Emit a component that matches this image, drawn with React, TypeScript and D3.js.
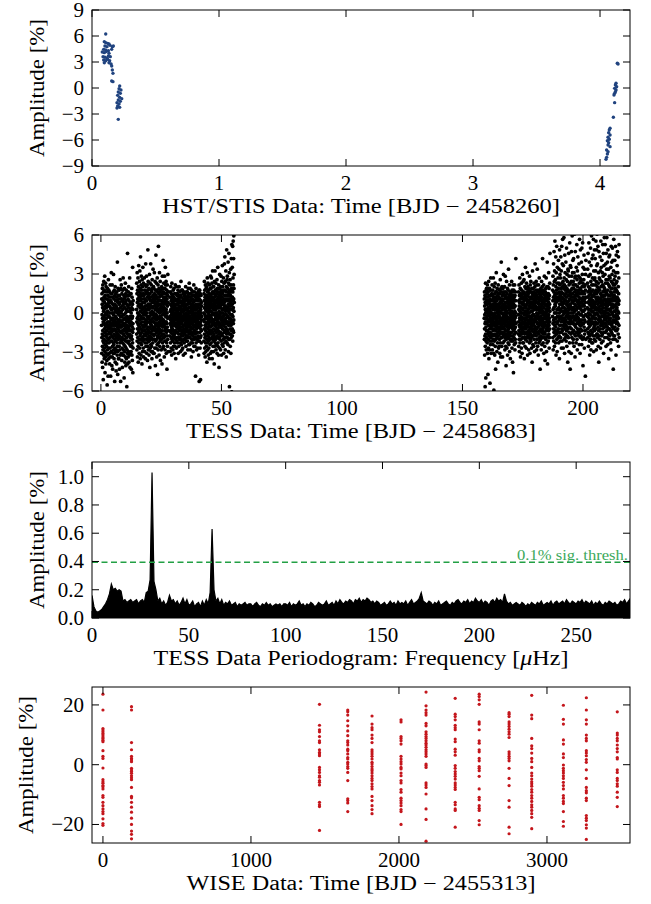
import React from "react"
import * as d3 from "d3"

const W = 651
const H = 904
const LEFT = 92
const RIGHT = 630
const PANEL_H = 156
const FONT = "'Liberation Serif', 'DejaVu Serif', serif"

// ---- HST/STIS light curve (days, %)
const hstTime = [
  0.108, 0.097, 0.108, 0.123, 0.134, 0.102, 0.118, 0.142, 0.160, 0.168, 0.092, 0.108, 0.129, 0.155,
  0.081, 0.097, 0.113, 0.134, 0.087, 0.102, 0.118, 0.129, 0.144, 0.092, 0.108, 0.123, 0.139, 0.097,
  0.134, 0.150, 0.155, 0.160, 0.165, 0.155, 0.165,
  0.218, 0.213, 0.228, 0.207, 0.223, 0.202, 0.218, 0.234, 0.207, 0.223, 0.197, 0.213, 0.202, 0.218,
  0.197, 0.207,
  4.136, 4.142, 4.126, 4.121, 4.131, 4.115, 4.126, 4.121, 4.115, 4.110, 4.115, 4.105, 4.079, 4.073,
  4.068, 4.079, 4.063, 4.073, 4.058, 4.068, 4.063, 4.079, 4.052, 4.063, 4.058, 4.052, 4.047,
]
const hstAmp = [
  6.23, 5.35, 5.23, 5.15, 5.08, 4.85, 4.77, 4.92, 4.77, 4.85, 4.46, 4.38, 4.31, 4.46,
  4.15, 4.08, 4.2, 4.0, 3.62, 3.54, 3.46, 3.69, 3.62, 3.23, 3.15, 3.31, 3.15, 2.92,
  2.92, 2.77, 2.54, 2.08, 1.69, 0.81, 0.73,
  0.23, -0.08, -0.23, -0.46, -0.62, -0.85, -1.08, -1.23, -1.38, -1.54, -1.69, -1.85, -2.08, -2.23,
  -2.31, -3.62,
  2.85, 2.77, 0.54, 0.35, 0.15, -0.04, -0.23, -0.42, -0.62, -0.81, -1.69, -3.38, -4.65, -4.85,
  -5.15, -5.42, -5.69, -5.92, -6.08, -6.31, -6.58, -6.77, -7.15, -7.35, -7.62, -8.0, -8.23,
]

// ---- TESS light curve, one orbit per entry, cadences in time order.
// each two-digit code c stands for an amplitude of (c - 50) * 0.135 %
const tessStart = [0.3, 14.8, 28.6, 42.7, 159.0, 173.2, 187.4, 201.8]
const tessEnd = [13.4, 27.9, 41.8, 55.3, 172.2, 186.3, 201.2, 215.0]
const tessCodes = [
  `43 27 58 36 61 49 22 55 38 64 31 47 19 53 40 66 34 29 57 45 12 62 37 51 26 44 68 33 48 59
   35 52 24 63 41 30 56 46 71 28 39 54 16 43 60 32 49 25 67 37 42 58 21 50 34 65 44 27 53 38
   47 31 62 40 23 55 36 49 9 58 42 29 64 33 51 45 26 60 38 14 54 43 35 69 30 48 57 24 41 63
   41 56 33 48 62 27 45 39 54 21 50 36 59 44 30 66 42 25 53 38 47 14 57 34 61 43 28 52 40 73
   39 56 28 46 61 34 20 52 44 37 66 25 50 41 31 59 18 47 55 36 43 27 62 33 49 40 72 29 53 45
   32 58 45 24 50 38 63 41 27 55 35 11 60 46 30 52 43 65 22 48 37 57 34 44 28 61 40 51 17 54
   44 29 59 36 47 21 62 39 53 33 45 26 57 42 79 31 50 38 15 56 41 28 64 35 46 52 24 43 60 37
   36 49 58 24 44 63 31 55 40 18 51 37 46 60 29 42 56 33 69 45 26 53 39 48 11 58 35 64 43 50
   51 34 42 66 27 48 39 58 23 45 61 36 30 54 43 19 57 40 33 63 46 26 52 38 44 70 29 49 35 56
   38 55 26 43 60 32 49 13 58 41 35 64 28 47 53 37 22 59 44 31 56 40 67 25 50 42 34 61 20 46
   57 30 46 39 63 24 52 41 36 55 8 48 43 29 60 34 51 45 27 84 38 21 54 42 33 58 47 25 62 40
   53 28 42 65 37 46 22 57 41 34 60 47 26 51 38 70 44 32 55 19 48 61 36 43 27 56 40 52 45 31
   45 36 61 28 50 43 18 56 37 53 31 64 40 26 47 59 35 42 23 55 48 33 76 39 16 52 44 30 57 41`,
  `52 38 67 45 29 61 34 73 47 56 41 25 63 50 36 58 44 70 31 54 48 22 65 39 57 43 77 33 60 46
   40 62 27 55 49 35 68 42 59 30 74 46 53 37 64 24 51 44 82 38 57 33 61 48 26 66 41 55 35 71
   58 32 47 63 39 54 21 60 45 69 36 52 43 28 65 50 40 76 34 56 47 61 30 53 42 67 25 49 58 37
   47 60 35 53 42 70 38 56 45 28 63 51 40 58 33 66 44 54 24 61 49 37 78 43 57 31 52 46 65 39
   44 71 35 57 50 27 62 41 54 33 66 48 38 59 23 52 45 63 31 86 42 55 36 68 47 29 60 40 53 34
   61 39 52 26 64 45 34 58 48 72 37 55 42 19 61 50 35 67 44 30 57 39 53 46 78 32 59 41 63 28
   36 54 66 43 31 57 49 38 62 24 51 45 69 35 56 40 28 64 47 53 33 60 42 75 38 50 27 58 45 65
   56 41 64 37 50 45 27 59 48 73 35 54 42 61 30 57 47 38 68 44 52 20 63 40 55 34 60 49 83 43
   49 30 58 41 67 35 53 46 25 63 39 56 44 32 70 48 37 59 51 15 62 43 36 54 66 29 52 40 57 88
   55 42 33 61 47 38 64 26 52 45 59 36 73 41 50 31 57 44 62 34 48 68 39 55 23 60 46 35 53 43
   63 37 46 54 29 60 43 51 35 65 47 40 57 21 53 44 61 38 71 49 33 56 42 64 30 52 45 80 36 59
   38 62 46 55 31 67 43 50 58 36 53 25 61 45 71 40 56 34 49 64 42 29 57 51 76 37 59 44 66 48
   41 57 34 68 45 52 27 61 39 55 48 33 63 44 18 58 50 37 66 42 54 31 60 47 35 72 40 56 28 62`,
  `48 37 59 44 28 62 51 40 55 33 46 65 39 52 43 30 57 47 36 61 49 42 26 54 45 67 35 50 41 58
   53 41 34 60 46 38 56 29 51 44 63 36 48 55 40 31 59 45 52 37 64 43 27 57 49 39 54 33 61 47
   38 55 46 31 58 43 50 66 35 47 53 40 24 61 44 49 36 57 42 52 30 65 46 39 55 48 34 60 43 51
   44 55 39 61 47 33 52 58 41 36 63 49 45 27 56 42 53 38 60 46 31 57 50 43 65 35 48 54 40 59
   57 44 36 52 62 41 49 33 56 45 28 60 38 53 47 42 68 35 50 44 59 32 54 40 46 63 37 51 29 56
   45 52 39 63 34 48 57 42 30 55 47 37 61 51 43 26 58 40 54 46 35 62 49 41 56 33 47 60 38 53
   40 58 47 35 54 44 61 27 52 43 57 39 48 65 36 50 45 31 59 42 53 37 46 62 34 55 41 49 58 44
   52 37 58 45 42 62 34 49 55 40 29 60 47 51 36 64 43 57 39 46 53 32 61 44 48 56 38 67 42 50
   56 43 32 59 48 40 53 36 64 45 51 29 57 42 38 55 47 61 33 50 44 39 58 25 54 46 41 63 35 52
   47 60 38 51 44 55 33 49 58 41 37 62 46 53 28 56 43 48 35 60 52 39 45 66 31 57 42 50 36 54
   35 53 46 62 40 49 57 31 45 54 38 60 43 47 14 59 50 36 55 42 64 33 48 52 39 58 44 29 61 46
   41 59 48 35 54 46 61 39 50 43 57 30 53 47 37 62 45 55 34 58 42 49 26 60 51 44 36 63 47 11
   51 42 58 34 47 63 39 55 44 30 53 48 61 36 49 12 57 41 52 45 37 60 43 50 33 56 46 40 54 48`,
  `46 34 61 50 27 57 41 68 38 53 45 30 63 49 36 59 43 25 55 47 66 33 52 40 60 28 48 56 37 64
   42 58 31 54 47 65 35 51 44 22 60 39 56 48 70 33 53 42 62 29 57 45 37 67 50 41 26 59 46 34
   55 38 63 44 30 52 49 36 61 43 57 24 54 40 66 47 35 58 51 32 64 45 39 53 27 60 48 71 42 56
   51 38 64 45 33 58 47 70 40 55 28 61 49 36 67 43 53 24 59 46 62 39 74 50 35 57 44 65 31 54
   37 61 45 28 58 52 41 65 34 49 56 38 62 21 53 46 68 31 55 43 59 36 50 74 40 57 33 63 47 44
   60 43 52 35 67 48 29 56 42 63 39 54 46 32 61 50 44 37 69 27 57 41 53 64 36 49 58 45 76 31
   48 56 33 62 45 40 59 26 53 47 66 38 55 43 19 60 51 36 64 42 57 30 49 72 44 35 61 54 39 58
   39 62 48 56 29 65 42 53 37 60 46 71 34 57 50 43 63 26 55 47 68 38 59 45 32 61 52 77 41 56
   41 65 50 37 57 44 31 62 48 55 35 70 43 52 27 63 46 58 39 53 67 33 56 45 78 40 60 49 36 82
   57 39 63 46 29 54 68 42 51 36 60 47 74 34 58 44 53 25 65 49 41 62 38 86 52 45 57 33 69 40
   44 71 36 60 53 40 64 48 32 58 45 79 39 55 62 28 51 67 43 57 35 84 47 61 50 38 73 54 8 66
   58 45 35 63 52 41 69 47 31 56 44 60 38 75 49 54 27 62 43 66 36 58 81 46 52 40 64 5 57 89
   63 49 55 41 76 37 59 52 45 88 34 62 48 70 57 40 91 53 44 66 39 81 58 46 94 51 64 3 72 56`,
  `4 47 58 35 62 41 26 54 49 37 60 44 8 56 31 52 45 67 38 50 13 59 42 34 63 47 29 55 40 64
   51 36 57 44 0 61 48 33 55 40 66 27 52 45 59 38 15 53 46 62 35 49 57 30 43 68 50 39 24 56
   43 60 37 52 46 29 64 41 55 48 34 10 58 45 51 39 63 32 54 47 70 36 57 42 27 60 49 44 53 38
   50 38 61 45 34 57 49 66 41 53 29 60 46 37 55 43 63 32 52 47 58 40 70 35 54 44 27 59 48 6
   57 41 49 65 34 53 45 38 61 26 50 43 56 37 67 47 31 59 52 44 18 55 40 62 48 35 58 42 73 46
   38 54 62 43 50 28 57 46 36 64 41 53 47 33 60 45 55 22 51 39 58 44 66 37 49 61 30 54 42 48
   52 45 31 59 40 55 48 63 35 51 44 27 61 47 38 56 42 69 33 53 46 58 25 50 41 64 36 57 45 79
   43 56 39 62 47 31 54 50 65 36 58 44 41 60 52 25 57 45 38 64 49 33 55 42 61 46 72 37 53 48
   46 62 39 53 44 34 58 50 41 65 37 55 48 29 60 43 52 36 71 45 56 40 62 31 49 54 38 59 20 47
   59 35 51 43 68 46 38 56 42 30 61 48 53 37 64 45 26 58 40 50 44 57 33 63 47 39 55 42 75 36
   41 57 47 32 54 60 45 38 52 66 43 28 59 50 35 56 46 62 39 53 24 58 44 49 37 61 42 55 34 48
   55 44 60 35 51 46 68 39 57 42 30 63 48 53 37 59 45 22 56 41 62 50 34 66 43 54 47 58 16 60
   55 40 63 46 36 53 49 59 32 44 57 41 66 38 51 47 29 60 45 54 35 62 42 48 57 33 50 81 39 44`,
  `49 38 62 45 31 57 52 40 66 35 54 43 28 60 47 56 37 70 42 51 33 58 46 64 39 53 25 61 44 50
   56 43 35 60 48 41 67 30 53 46 58 38 63 50 44 27 59 42 55 36 72 47 52 40 61 33 56 45 68 39
   42 59 47 33 55 62 39 50 44 69 36 57 49 24 61 45 53 38 58 41 65 31 54 47 43 60 35 76 51 46
   47 59 41 64 36 53 49 30 58 44 67 39 55 51 42 62 34 57 46 73 38 60 48 26 56 43 65 50 37 61
   61 36 52 45 64 40 48 29 57 54 42 63 37 50 46 59 33 71 44 56 39 62 27 53 48 41 66 35 58 45
   45 55 38 68 47 34 59 51 42 62 36 56 48 30 64 43 53 40 58 22 61 46 51 37 74 44 55 49 32 60
   53 41 64 44 37 58 46 55 31 62 49 39 67 43 57 35 52 60 45 28 56 48 41 65 38 54 78 42 59 47
   54 40 61 46 57 33 63 48 42 68 37 52 59 45 29 60 50 41 66 35 56 47 75 39 58 44 53 31 62 49
   39 63 48 56 42 26 59 52 44 66 38 55 47 33 61 50 43 70 36 57 46 53 40 63 34 58 45 51 18 62
   58 44 53 35 60 48 41 64 37 55 50 29 62 45 57 39 68 43 52 32 59 47 54 36 65 41 56 44 81 50
   46 61 40 57 51 33 63 45 56 38 49 66 42 27 58 53 36 62 47 44 71 39 55 50 31 60 43 57 48 23
   38 57 50 62 43 55 35 64 47 59 41 52 70 36 58 45 28 61 49 54 40 65 33 57 46 79 42 51 60 21
   54 42 59 37 48 65 44 52 34 61 46 56 40 73 49 38 58 43 64 30 53 47 60 36 55 41 67 45 51 84`,
  `48 63 36 57 71 44 52 29 66 41 59 78 46 34 62 53 39 85 57 45 68 31 50 74 43 60 37 91 55 47
   61 40 54 69 33 58 47 82 42 65 26 56 73 50 38 63 45 59 88 35 52 67 44 28 61 76 48 57 40 96
   39 57 45 70 52 36 64 48 80 41 59 33 67 53 46 75 37 62 50 24 58 86 43 55 66 39 72 47 60 34
   52 70 43 61 36 57 82 48 64 39 55 74 45 30 62 51 88 41 59 67 34 56 46 78 53 40 65 92 47 58
   55 43 68 49 30 61 77 45 56 38 64 51 93 42 58 70 35 53 47 66 27 60 83 44 57 41 73 50 36 63
   46 65 38 57 52 79 43 61 34 69 48 55 40 87 59 45 31 64 51 72 42 56 37 68 98 49 62 22 54 75
   63 41 53 74 47 36 60 50 84 44 57 28 66 39 71 52 45 62 33 58 90 48 55 42 67 18 61 77 46 53
   60 44 55 76 38 63 50 27 68 47 85 53 41 59 71 36 57 64 45 94 52 39 61 73 48 56 33 80 44 66
   50 68 35 59 44 81 53 40 64 48 73 31 57 46 62 38 95 51 66 43 55 70 25 60 47 85 37 58 52 71
   42 58 66 46 54 33 63 76 49 39 61 52 44 89 57 35 69 48 60 29 74 53 41 65 56 82 45 38 62 50
   57 47 40 71 55 63 37 50 78 44 59 32 67 53 46 92 39 61 56 43 70 27 58 49 64 86 41 54 36 68
   45 63 52 37 69 56 43 79 49 61 32 58 87 46 65 54 40 72 51 62 35 90 57 44 67 20 59 76 48 55
   44 62 51 36 69 48 57 83 42 65 54 30 61 75 46 38 58 97 52 45 66 40 56 14 63 72 49 59 35 80`,
  `53 41 67 48 75 36 59 45 62 84 39 56 50 31 65 44 71 52 38 90 47 60 42 57 79 34 63 49 55 26
   46 64 37 58 52 72 43 61 35 87 49 56 40 68 29 54 77 45 62 51 38 94 57 44 66 33 59 47 81 53
   60 39 55 70 45 51 33 63 48 83 57 41 66 37 53 92 44 60 28 74 50 56 42 69 35 61 47 86 54 40
   55 43 70 49 62 37 81 56 45 66 52 34 74 59 47 91 41 63 53 68 29 58 86 44 61 50 77 38 57 95
   38 65 52 44 78 57 36 62 49 55 88 42 59 31 67 46 73 53 40 64 22 58 85 48 56 37 70 51 45 96
   56 47 63 35 69 52 82 41 58 46 74 30 61 54 43 91 50 65 39 57 76 44 52 33 68 60 48 80 37 55
   43 59 50 73 38 66 45 56 89 41 62 53 34 71 48 57 44 84 60 27 65 51 39 77 55 46 63 42 93 49
   42 64 51 58 36 72 47 60 89 44 55 67 39 62 53 78 46 57 31 69 50 84 43 61 56 40 75 48 93 52
   61 36 57 48 67 42 79 54 45 63 32 58 86 50 41 69 55 38 75 47 60 24 66 52 44 82 57 35 71 46
   49 65 41 56 83 37 60 52 70 44 58 47 95 33 62 55 40 76 51 64 29 57 88 45 68 39 53 61 43 79
   58 44 72 50 38 64 55 87 42 60 49 67 35 57 80 46 53 18 66 41 74 59 48 92 37 62 54 45 69 51
   60 48 37 66 54 80 45 59 42 71 57 35 64 51 88 46 62 40 73 55 26 67 49 83 58 44 63 52 97 47
   40 68 53 45 77 59 34 62 85 48 56 41 73 51 44 98 58 38 65 47 82 55 31 61 50 70 43 57 89 36`,
]

// ---- TESS periodogram, 1 µHz steps from 0 to 278 µHz (amplitude %)
const pgAmp = [
  0.16, 0.08, 0.05, 0.04, 0.05, 0.06, 0.08, 0.10, 0.13, 0.17,
  0.24, 0.20, 0.21, 0.19, 0.20, 0.19, 0.12, 0.13, 0.11, 0.12,
  0.13, 0.11, 0.12, 0.13, 0.10, 0.12, 0.13, 0.11, 0.18, 0.19,
  0.27, 1.03, 0.26, 0.20, 0.12, 0.14, 0.10, 0.12, 0.09, 0.11,
  0.16, 0.12, 0.13, 0.10, 0.12, 0.09, 0.11, 0.14, 0.10, 0.13,
  0.09, 0.10, 0.12, 0.08, 0.10, 0.11, 0.08, 0.12, 0.09, 0.13,
  0.10, 0.18, 0.63, 0.20, 0.12, 0.14, 0.10, 0.13, 0.09, 0.11,
  0.10, 0.12, 0.09, 0.10, 0.11, 0.08, 0.10, 0.09, 0.10, 0.11,
  0.09, 0.10, 0.10, 0.08, 0.10, 0.11, 0.09, 0.08, 0.10, 0.09,
  0.11, 0.09, 0.10, 0.08, 0.09, 0.10, 0.09, 0.10, 0.08, 0.10,
  0.10, 0.09, 0.11, 0.08, 0.10, 0.09, 0.10, 0.12, 0.09, 0.10,
  0.08, 0.10, 0.09, 0.11, 0.10, 0.08, 0.09, 0.11, 0.10, 0.09,
  0.10, 0.12, 0.09, 0.10, 0.11, 0.09, 0.12, 0.10, 0.13, 0.11,
  0.10, 0.12, 0.11, 0.13, 0.12, 0.10, 0.13, 0.12, 0.14, 0.11,
  0.13, 0.12, 0.14, 0.13, 0.11, 0.12, 0.10, 0.12, 0.11, 0.09,
  0.10, 0.11, 0.09, 0.10, 0.12, 0.10, 0.11, 0.09, 0.12, 0.10,
  0.11, 0.10, 0.12, 0.09, 0.11, 0.13, 0.10, 0.11, 0.12, 0.14,
  0.18, 0.12, 0.11, 0.10, 0.12, 0.11, 0.09, 0.11, 0.10, 0.12,
  0.09, 0.10, 0.11, 0.12, 0.10, 0.09, 0.11, 0.10, 0.12, 0.13,
  0.11, 0.10, 0.12, 0.11, 0.13, 0.10, 0.12, 0.11, 0.14, 0.12,
  0.11, 0.13, 0.10, 0.12, 0.11, 0.09, 0.12, 0.13, 0.11, 0.14,
  0.12, 0.13, 0.11, 0.17, 0.12, 0.10, 0.11, 0.09, 0.10, 0.11,
  0.10, 0.09, 0.11, 0.10, 0.08, 0.10, 0.09, 0.11, 0.10, 0.09,
  0.11, 0.10, 0.12, 0.09, 0.10, 0.11, 0.10, 0.12, 0.09, 0.11,
  0.12, 0.10, 0.11, 0.12, 0.10, 0.13, 0.11, 0.10, 0.12, 0.11,
  0.10, 0.12, 0.11, 0.13, 0.10, 0.12, 0.11, 0.10, 0.12, 0.09,
  0.11, 0.10, 0.12, 0.10, 0.09, 0.11, 0.10, 0.12, 0.11, 0.10,
  0.11, 0.09, 0.10, 0.12, 0.11, 0.13, 0.10, 0.12, 0.14,
]
const sigThresh = 0.395

// ---- WISE visits: epoch (days) and the single exposures (%)
const wiseEpoch = [0, 193, 1463, 1654, 1818, 2014, 2183, 2380, 2542, 2744, 2897, 3111, 3266, 3475]
const wiseAmp = [
  [23.6, 18.3, 12.1, 11.6, 11, 10.4, 9.9, 9.3, 8.8, 8.2, 7.7, 4.7, 2.8, 2.1, -1.1, -5, -5.7, -6.2, -7, -7.4, -8.1, -10.3, -10.9, -12.6, -13.7, -14.8, -15.7, -16.4, -18.1, -19.7, -20.3],
  [19.4, 18.3, 7.4, 5, 2.8, 2.1, 1.6, 1, -1.2, -1.8, -2.3, -2.9, -3.7, -4.4, -5, -7.6, -10.6, -11.1, -12.6, -14.2, -15.9, -17.9, -20, -22.2, -23.3, -24.8],
  [20.2, 13.2, 11.7, 11, 9.4, 8, 7.4, 5, 4.1, 3.6, 3, -0.9, -1.7, -2.6, -3.7, -4.2, -5.3, -5.9, -6.8, -12.6, -13.4, -14, -22],
  [18.3, 17.7, 16.6, 14.7, 13, 11.3, 9.7, 8, 7.4, 6.6, 5.2, 4.7, 3.6, 2.4, 1.9, 0.8, 0.2, -0.6, -1.2, -2.6, -5.3, -11.4, -12, -12.8, -15.7],
  [16.3, 13.6, 12.4, 11.7, 9.9, 8.8, 7.4, 5, 4.3, 3.6, 2.8, 1.9, 0.8, 0.2, -0.6, -1.4, -2, -2.8, -3.7, -4.6, -5.3, -6.4, -7.3, -8.1, -10.6, -12, -13.7, -15, -16.4],
  [15, 14.3, 9.4, 8.8, 8, 6.9, 2.8, 1.9, 1, 0.2, -0.9, -1.4, -2.8, -3.7, -5.3, -6.1, -8.3, -9.2, -11.2, -12, -12.8, -13.7, -15, -15.7, -20],
  [24.3, 19.7, 18.3, 17.4, 16.6, 13.8, 13, 11, 10.2, 9.4, 8.8, 8, 7.2, 6.6, 5.8, 5, 4.3, 3.6, 2.8, 0.2, -0.3, -0.9, -6.1, -6.8, -7.6, -9.8, -14.8, -18.3, -25.6],
  [22.2, 16.9, 16.1, 15, 13.2, 12.4, 11.7, 8.6, 7.7, 5.2, 4.3, 3.2, -0.3, -1.2, -2.3, -3.1, -3.9, -4.8, -6.1, -6.8, -7.6, -8.3, -12.6, -13.4, -14.8, -15.3, -20.9],
  [23.6, 22.8, 21.7, 20.2, 14.3, 13.6, 11.7, 8, 7.2, 5, 4.3, 2.1, 1.3, -0.6, -1.2, -2, -3.9, -8.1, -10.9, -11.7, -13.7, -14.6, -15.3, -18.7, -20.1],
  [17.4, 16.9, 16.1, 14.3, 13.6, 12.8, 11.9, 11, 10.2, 9.1, 4.3, 3.6, 2.8, 2.1, 1.3, -1.2, -4.6, -7, -12, -14.2, -20.9, -23.1],
  [23.2, 16.6, 15.4, 8.8, 6.3, 5.4, 3.9, 2.1, 1, -0.9, -2.8, -3.7, -4.8, -5.7, -6.4, -7.2, -8.3, -9.2, -10.3, -11.2, -12.3, -13.4, -14.2, -15.3, -16.4, -17.6, -21.4],
  [19.9, 15.2, 13.6, 8.3, 6.9, 3.6, 2.4, -0.1, -1.2, -2, -2.8, -3.7, -4.6, -5.9, -7, -8.1, -10.3, -11.2, -12.3, -13, -15.7, -19, -20.6],
  [22.4, 18.3, 15, 13.6, 9.9, 8.8, 8, 4.7, 3.9, 3, 1.7, 0.8, -1.7, -4.6, -7.6, -8.7, -9.4, -11.2, -12, -17, -17.9, -18.7, -20.1, -21.2, -25],
  [17.7, 10.6, 9.9, 8.8, 8, 6.6, 5.4, 4.3, 2.4, 1.9, -1.7, -2.6, -4.6, -5.3, -6.4, -7.2, -9.2, -10.9, -14],
]

const BLUE = "#20437f"
const RED = "#c4161c"
const GREEN = "#22a045"

type Scale = d3.ScaleLinear<number, number>

interface PanelProps {
  id: string
  top: number
  xDomain: [number, number]
  yDomain: [number, number]
  xTicks: number[]
  yTicks: number[]
  yFormat: (v: number) => string
  xLabel: React.ReactNode
  xLabelWidth: number
  yLabelX: number
  children: (x: Scale, y: Scale) => React.ReactNode
}

function Panel(props: PanelProps) {
  const { id, top, xDomain, yDomain, xTicks, yTicks, yFormat, xLabel, xLabelWidth, yLabelX, children } = props
  const bottom = top + PANEL_H
  const x = d3.scaleLinear().domain(xDomain).range([LEFT, RIGHT])
  const y = d3.scaleLinear().domain(yDomain).range([bottom, top])
  const xFmt = d3.format("d")
  const tick = 7
  return (
    <g>
      <defs>
        <clipPath id={id}>
          <rect x={LEFT} y={top} width={RIGHT - LEFT} height={PANEL_H} />
        </clipPath>
      </defs>
      <g clipPath={`url(#${id})`}>{children(x, y)}</g>
      <rect x={LEFT} y={top} width={RIGHT - LEFT} height={PANEL_H} fill="none" stroke="#000" strokeWidth={1} />
      <g stroke="#000" strokeWidth={1}>
        {xTicks.map(t => (
          <g key={"x" + t}>
            <line x1={x(t)} x2={x(t)} y1={bottom} y2={bottom - tick} />
            <line x1={x(t)} x2={x(t)} y1={top} y2={top + tick} />
          </g>
        ))}
        {yTicks.map(t => (
          <g key={"y" + t}>
            <line x1={LEFT} x2={LEFT + tick} y1={y(t)} y2={y(t)} />
            <line x1={RIGHT} x2={RIGHT - tick} y1={y(t)} y2={y(t)} />
          </g>
        ))}
      </g>
      <g fontFamily={FONT} fontSize={21} fill="#000">
        {xTicks.map(t => (
          <text key={"xl" + t} x={x(t)} y={bottom + 24} textAnchor="middle">{xFmt(t)}</text>
        ))}
        {yTicks.map(t => (
          <text key={"yl" + t} x={LEFT - 8} y={y(t) + 7} textAnchor="end">{yFormat(t)}</text>
        ))}
        <text x={(LEFT + RIGHT) / 2} y={bottom + 47} textAnchor="middle" fontSize={20.5}
          textLength={xLabelWidth} lengthAdjust="spacingAndGlyphs">{xLabel}</text>
        <text transform={`translate(${yLabelX},${(top + bottom) / 2}) rotate(-90)`} textAnchor="middle"
          fontSize={20.5} textLength={138} lengthAdjust="spacingAndGlyphs">Amplitude [%]</text>
      </g>
    </g>
  )
}

export default function App() {
  const intFmt = d3.format("d")
  const decFmt = d3.format(".1f")

  const tessPts: { t: number; a: number }[] = []
  tessCodes.forEach((s, k) => {
    const codes = s.trim().split(/\s+/).map(Number)
    const t = d3.scaleLinear().domain([0, codes.length - 1]).range([tessStart[k], tessEnd[k]])
    codes.forEach((c, i) => tessPts.push({ t: t(i), a: (c - 50) * 0.135 }))
  })

  const wisePts: { t: number; a: number }[] = []
  wiseEpoch.forEach((t, k) => wiseAmp[k].forEach(a => wisePts.push({ t, a })))

  return (
    <svg width={W} height={H} style={{ position: "absolute", left: 0, top: 0, background: "#fff" }}>
      <rect width={W} height={H} fill="#fff" />

      <Panel id="c1" top={10} xDomain={[0, 4.236]} yDomain={[-9, 9]}
        xTicks={[0, 1, 2, 3, 4]} yTicks={[-9, -6, -3, 0, 3, 6, 9]} yFormat={intFmt}
        xLabel="HST/STIS Data: Time [BJD − 2458260]" xLabelWidth={398} yLabelX={44}>
        {(x, y) => hstTime.map((t, i) => (
          <circle key={i} cx={x(t)} cy={y(hstAmp[i])} r={1.7} fill={BLUE} />
        ))}
      </Panel>

      <Panel id="c2" top={235} xDomain={[-3.7, 219.5]} yDomain={[-6, 6]}
        xTicks={[0, 50, 100, 150, 200]} yTicks={[-6, -3, 0, 3, 6]} yFormat={intFmt}
        xLabel="TESS Data: Time [BJD − 2458683]" xLabelWidth={350} yLabelX={44}>
        {(x, y) => tessPts.map((p, i) => (
          <circle key={i} cx={x(p.t)} cy={y(p.a)} r={1.9} fill="#000" />
        ))}
      </Panel>

      <Panel id="c3" top={462} xDomain={[0, 277.8]} yDomain={[0, 1.104]}
        xTicks={[0, 50, 100, 150, 200, 250]} yTicks={[0, 0.2, 0.4, 0.6, 0.8, 1.0]} yFormat={decFmt}
        xLabel={<>TESS Data Periodogram: Frequency [<tspan fontStyle="italic">μ</tspan>Hz]</>}
        xLabelWidth={415} yLabelX={44}>
        {(x, y) => {
          const area = d3.area<number>()
            .x((_, i) => x(i))
            .y0(y(0))
            .y1(d => y(d))
          const line = d3.line<number>()
            .x((_, i) => x(i))
            .y(d => y(d))
          return (
            <g>
              <path d={area(pgAmp) || ""} fill="#000" />
              <path d={line(pgAmp) || ""} fill="none" stroke="#000" strokeWidth={1.2} />
              <line x1={LEFT} x2={RIGHT} y1={y(sigThresh)} y2={y(sigThresh)}
                stroke={GREEN} strokeWidth={1.5} strokeDasharray="6,3.5" />
              <text x={RIGHT - 2} y={y(sigThresh) - 2} textAnchor="end" fontFamily={FONT}
                fontSize={14.5} fill="#3aa85a" textLength={111} lengthAdjust="spacingAndGlyphs">0.1% sig. thresh.</text>
            </g>
          )
        }}
      </Panel>

      <Panel id="c4" top={687} xDomain={[-74, 3561]} yDomain={[-26.2, 26]}
        xTicks={[0, 1000, 2000, 3000]} yTicks={[-20, 0, 20]} yFormat={intFmt}
        xLabel="WISE Data: Time [BJD − 2455313]" xLabelWidth={349} yLabelX={33}>
        {(x, y) => wisePts.map((p, i) => (
          <circle key={i} cx={x(p.t)} cy={y(p.a)} r={1.6} fill={RED} />
        ))}
      </Panel>
    </svg>
  )
}
